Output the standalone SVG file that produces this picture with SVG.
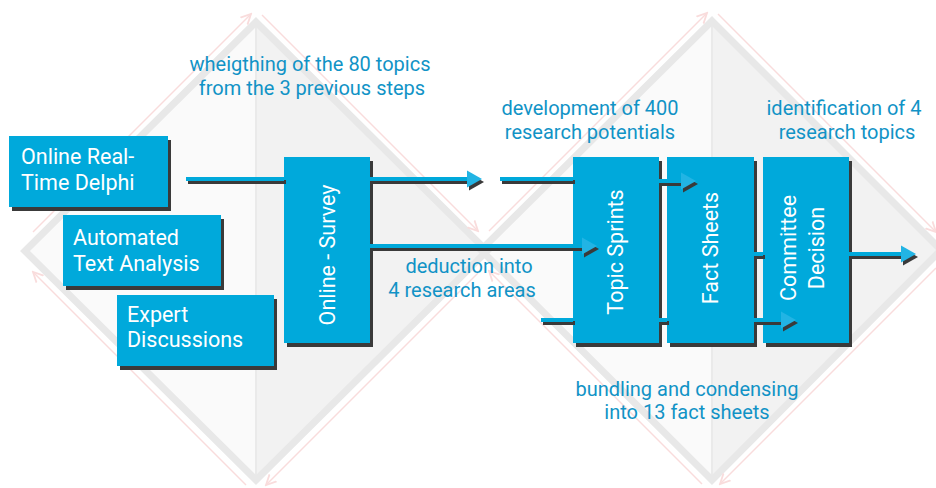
<svg xmlns="http://www.w3.org/2000/svg" width="936" height="488" viewBox="0 0 936 488">
<style>
.box{fill:#00a9db}
.sh{fill:#3a3a3a}
.bt{font-family:Roboto,"Liberation Sans",sans-serif;font-size:21.5px;fill:#ffffff}
.lb{font-family:Roboto,"Liberation Sans",sans-serif;font-size:20px;fill:#1193c6;text-anchor:middle}
.cl{stroke:#00a9db;stroke-width:4;fill:none}
.cd{stroke:#3a3a3a;stroke-width:4;fill:none}
.band{fill:none;stroke:#e8e8e8;stroke-width:7;stroke-linejoin:miter}
.pk{fill:none;stroke:#f9dcdc;stroke-width:1.5}
</style>
<defs>
<marker id="pa" markerUnits="userSpaceOnUse" markerWidth="12" markerHeight="12" refX="10" refY="5" orient="auto" viewBox="0 0 12 10">
<path d="M0,0 L10,5 L0,10" fill="none" stroke="#f9dcdc" stroke-width="1.8"/>
</marker>
<polygon id="ah" points="0,0 -15,-8.5 -15,8.5"/>
</defs>
<rect width="936" height="488" fill="#ffffff"/>
<g id="background">
<polygon points="256,18 256,484 23,251" fill="#fafafa"/>
<polygon points="256,18 489,251 256,484" fill="#f2f2f2"/>
<polygon points="712,17 712,484 479,250" fill="#fafafa"/>
<polygon points="712,17 945,250 712,484" fill="#f2f2f2"/>
<line x1="256" y1="18" x2="256" y2="484" stroke="#eaeaea" stroke-width="2"/>
<line x1="712" y1="17" x2="712" y2="484" stroke="#eaeaea" stroke-width="2"/>
<polygon class="band" points="256,22 487,251 256,480 25,251"/>
<polygon class="band" points="712,21 941,250 712,480 481,250"/>
<g class="pk">
<line x1="33" y1="232" x2="251" y2="14" marker-end="url(#pa)"/>
<line x1="262" y1="15" x2="478" y2="231" marker-end="url(#pa)"/>
<line x1="478" y1="273" x2="266" y2="485" marker-end="url(#pa)"/>
<line x1="246" y1="485" x2="33" y2="272" marker-end="url(#pa)"/>
<line x1="489" y1="231" x2="707" y2="13" marker-end="url(#pa)"/>
<line x1="718" y1="14" x2="936" y2="232" marker-end="url(#pa)"/>
<line x1="936" y1="268" x2="720" y2="484" marker-end="url(#pa)"/>
<line x1="702" y1="484" x2="489" y2="271" marker-end="url(#pa)"/>
</g>
</g>
<g id="delphi">
<rect class="sh" x="12" y="140" width="159" height="71"/>
<rect class="box" x="9" y="136" width="159" height="71"/>
<text class="bt" x="21" y="164">Online Real-</text>
<text class="bt" x="21" y="190">Time Delphi</text>
</g>
<g id="textanalysis">
<rect class="sh" x="66" y="219" width="158" height="71"/>
<rect class="box" x="63" y="215" width="158" height="71"/>
<text class="bt" x="73" y="245">Automated</text>
<text class="bt" x="73" y="271">Text Analysis</text>
</g>
<g id="expert">
<rect class="sh" x="120" y="299" width="157" height="71"/>
<rect class="box" x="117" y="295" width="157" height="71"/>
<text class="bt" x="127" y="322">Expert</text>
<text class="bt" x="127" y="347">Discussions</text>
</g>
<g id="survey">
<rect class="sh" x="287" y="161" width="86" height="186"/>
<rect class="box" x="284" y="157" width="86" height="186"/>
<text class="bt" text-anchor="middle" transform="translate(335,255) rotate(-90)">Online - Survey</text>
</g>
<g id="sprints">
<rect class="sh" x="576" y="161" width="86" height="186"/>
<rect class="box" x="573" y="157" width="86" height="186"/>
<text class="bt" text-anchor="middle" transform="translate(623,252) rotate(-90)">Topic Sprints</text>
</g>
<g id="factsheets">
<rect class="sh" x="670" y="161" width="87" height="186"/>
<rect class="box" x="667" y="157" width="87" height="186"/>
<text class="bt" text-anchor="middle" transform="translate(718,248) rotate(-90)">Fact Sheets</text>
</g>
<g id="committee">
<rect class="sh" x="766" y="161" width="86" height="186"/>
<rect class="box" x="763" y="157" width="86" height="186"/>
<text class="bt" text-anchor="middle" transform="translate(796,248) rotate(-90)">Committee</text>
<text class="bt" text-anchor="middle" transform="translate(824,248) rotate(-90)">Decision</text>
</g>
<g id="connectors">
<g transform="translate(2,3)" class="cd">
<line x1="186" y1="179" x2="284" y2="179"/>
<line x1="370" y1="179" x2="470" y2="179"/>
<line x1="500" y1="179" x2="573" y2="179"/>
<line x1="659" y1="181" x2="684" y2="181"/>
<line x1="370" y1="246" x2="585" y2="246"/>
<line x1="754" y1="254" x2="763" y2="254"/>
<line x1="849" y1="254" x2="904" y2="254"/>
<line x1="541" y1="320" x2="573" y2="320"/>
<line x1="659" y1="320" x2="667" y2="320"/>
<line x1="754" y1="320" x2="784" y2="320"/>
<g fill="#3a3a3a" stroke="none">
<use href="#ah" x="482" y="179"/>
<use href="#ah" x="696" y="181"/>
<use href="#ah" x="597" y="246"/>
<use href="#ah" x="916" y="254"/>
<use href="#ah" x="796" y="320"/>
</g>
</g>
<g class="cl">
<line x1="186" y1="179" x2="284" y2="179"/>
<line x1="370" y1="179" x2="470" y2="179"/>
<line x1="500" y1="179" x2="573" y2="179"/>
<line x1="659" y1="181" x2="684" y2="181"/>
<line x1="370" y1="246" x2="585" y2="246"/>
<line x1="754" y1="254" x2="763" y2="254"/>
<line x1="849" y1="254" x2="904" y2="254"/>
<line x1="541" y1="320" x2="573" y2="320"/>
<line x1="659" y1="320" x2="667" y2="320"/>
<line x1="754" y1="320" x2="784" y2="320"/>
<g fill="#22b4e4" stroke="none">
<use href="#ah" x="482" y="179"/>
<use href="#ah" x="696" y="181"/>
<use href="#ah" x="597" y="246"/>
<use href="#ah" x="916" y="254"/>
<use href="#ah" x="796" y="320"/>
</g>
</g>
</g>
<g id="labels">
<text class="lb" x="310" y="71">wheigthing of the 80 topics</text>
<text class="lb" x="312" y="95">from the 3 previous steps</text>
<text class="lb" x="590" y="115">development of 400</text>
<text class="lb" x="590" y="139">research potentials</text>
<text class="lb" x="844" y="115">identification of 4</text>
<text class="lb" x="847" y="139">research topics</text>
<text class="lb" x="469" y="273">deduction into</text>
<text class="lb" x="462" y="297">4 research areas</text>
<text class="lb" x="687" y="396">bundling and condensing</text>
<text class="lb" x="687" y="419">into 13 fact sheets</text>
</g>
</svg>
